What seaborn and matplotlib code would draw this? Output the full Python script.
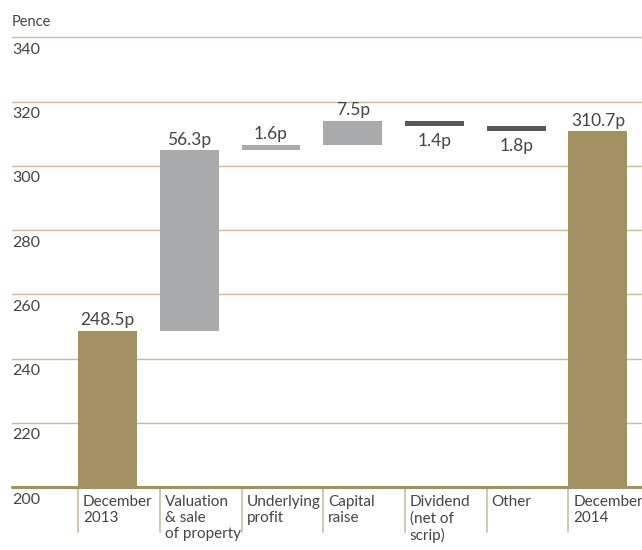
import numpy as np
import pandas as pd
import matplotlib
matplotlib.use("Agg")
import matplotlib.pyplot as plt
import matplotlib.transforms as mtransforms
import seaborn as sns

# dados do gráfico (pence por ação)
categorias = ['December\n2013', 'Valuation\n& sale\nof property', 'Underlying\nprofit',
              'Capital\nraise', 'Dividend\n(net of\nscrip)', 'Other', 'December\n2014']
variacoes = [248.5, 56.3, 1.6, 7.5, -1.4, -1.8, 310.7]
rotulos = ['248.5p', '56.3p', '1.6p', '7.5p', '1.4p', '1.8p', '310.7p']
tipos = ['total', 'up', 'up', 'up', 'down', 'down', 'total']
yticks = [200, 220, 240, 260, 280, 300, 320, 340]

cores = {'total': '#a39162', 'up': '#a9aaac', 'down': '#58595b'}
cor_texto = '#444444'

# base de cada barra (cascata)
bases = []
acumulado = 0
for v, t in zip(variacoes, tipos):
    if t == 'total':
        bases.append(0)
        acumulado = v
    else:
        bases.append(acumulado)
        acumulado += v
dados = pd.DataFrame({'cat': categorias, 'altura': variacoes, 'base': bases})

sns.set_style('white')
plt.rcParams['font.family'] = ['Lato', 'DejaVu Sans']

fig = plt.figure(figsize=(6.42, 5.5), dpi=100)
ax = fig.add_axes([12 / 642, 63 / 550, 630 / 642, 469 / 550])

sns.barplot(data=dados, x='cat', y='altura', bottom=np.array(bases), width=0.72,
            errorbar=None, ax=ax, saturation=1, linewidth=0, color=cores['total'])
for barra, t in zip(ax.patches, tipos):
    barra.set_facecolor(cores[t])
    barra.set_edgecolor('none')

ax.set_ylim(200, 346)
ax.set_xlim(-1.17, 6.54)
for s in ax.spines.values():
    s.set_visible(False)
ax.set_xticks([])
ax.set_yticks([])
ax.set_xlabel('')
ax.set_ylabel('')

# linhas de grade
for y in yticks[1:]:
    ax.axhline(y, color='#c9bc9a', lw=1, zorder=0)
ax.axhline(200, color='#a39162', lw=2.2, zorder=3, clip_on=False)

# rótulos do eixo y (abaixo das linhas)
trans_y = mtransforms.blended_transform_factory(ax.transAxes, ax.transData)
for y in yticks:
    ax.annotate(str(y), (0, y), xycoords=trans_y, xytext=(0, -4), textcoords='offset points',
                ha='left', va='top', fontsize=11.5, color=cor_texto)
ax.text(0, 1.0 - 4 / 469, 'Pence', transform=ax.transAxes, ha='left', va='center',
        fontsize=10.5, color=cor_texto)

# rótulos das categorias e separadores
trans_x = mtransforms.blended_transform_factory(ax.transData, ax.transAxes)
for i, c in enumerate(categorias):
    x0 = i - 0.36
    ax.plot([x0, x0], [0, -0.096], transform=trans_x, color='#cbbf9f', lw=1.2, clip_on=False)
    ax.text(x0 + 0.06, -0.016, c, transform=trans_x, ha='left', va='top',
            fontsize=11, color=cor_texto, linespacing=1.22)

# valores
for i, (v, b, t, r) in enumerate(zip(variacoes, bases, tipos, rotulos)):
    topo = max(b, b + v)
    fundo = min(b, b + v)
    if t == 'down':
        ax.annotate(r, (i, fundo), xytext=(0, -5), textcoords='offset points',
                    ha='center', va='top', fontsize=12.5, color=cor_texto)
    else:
        ax.annotate(r, (i, topo), xytext=(0, 2), textcoords='offset points',
                    ha='center', va='bottom', fontsize=12.5, color=cor_texto)

fig.savefig('out.png', dpi=100)
